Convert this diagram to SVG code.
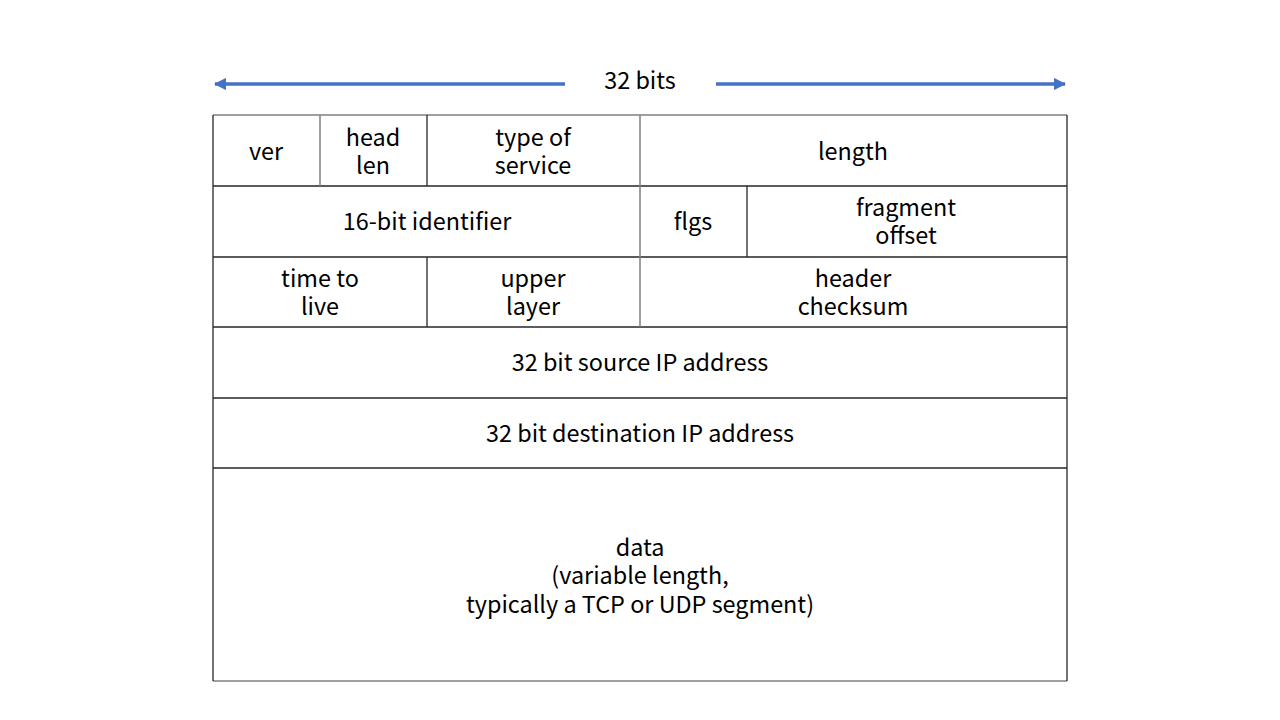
<svg xmlns="http://www.w3.org/2000/svg" width="1280" height="720" viewBox="0 0 1280 720">
<style>
text{font-family:"Noto Sans CJK KR","Noto Sans",sans-serif;font-size:23.4px;fill:#000;text-anchor:middle;dominant-baseline:central}
.g{stroke:#7f7f7f;stroke-width:1.5;fill:none}
.d{stroke:#262626;stroke-width:1.3;fill:none}
.a{stroke:#4472C4;stroke-width:3.5;fill:none}
</style>
<defs>
<marker id="ah" viewBox="0 0 10 10" refX="9" refY="5" markerWidth="3.5" markerHeight="3.5" orient="auto-start-reverse" markerUnits="strokeWidth">
<path d="M0,0 L10,5 L0,10 z" fill="#4472C4"/>
</marker>
</defs>
<rect width="1280" height="720" fill="#fff"/>
<g id="connectors">
<line class="a" x1="215" y1="84" x2="565" y2="84" marker-start="url(#ah)"/>
<line class="a" x1="716" y1="84" x2="1065" y2="84" marker-end="url(#ah)"/>
</g>
<g id="grid">
<line class="g" x1="213" y1="115" x2="1067" y2="115"/>
<line class="d" x1="213" y1="186" x2="1067" y2="186"/>
<line class="d" x1="213" y1="257" x2="1067" y2="257"/>
<line class="d" x1="213" y1="327" x2="1067" y2="327"/>
<line class="d" x1="213" y1="398" x2="1067" y2="398"/>
<line class="d" x1="213" y1="468" x2="1067" y2="468"/>
<line class="g" x1="213" y1="681" x2="1067" y2="681"/>
<line class="d" x1="213" y1="115" x2="213" y2="681"/>
<line class="d" x1="1067" y1="115" x2="1067" y2="681"/>
<line class="g" x1="320" y1="115" x2="320" y2="186"/>
<line class="d" x1="427" y1="115" x2="427" y2="186"/>
<line class="g" x1="640" y1="115" x2="640" y2="327"/>
<line class="d" x1="747" y1="186" x2="747" y2="257"/>
<line class="d" x1="427" y1="257" x2="427" y2="327"/>
</g>
<g id="title"><text x="640" y="79">32 bits</text></g>
<g id="ver"><text x="266" y="150">ver</text></g>
<g id="headlen"><text x="373" y="136">head</text><text x="373" y="164">len</text></g>
<g id="tos"><text x="533" y="136">type of</text><text x="533" y="164">service</text></g>
<g id="length"><text x="853" y="150">length</text></g>
<g id="ident"><text x="427" y="220">16-bit identifier</text></g>
<g id="flgs"><text x="693" y="220">flgs</text></g>
<g id="frag"><text x="906" y="206">fragment</text><text x="906" y="234">offset</text></g>
<g id="ttl"><text x="320" y="277">time to</text><text x="320" y="305">live</text></g>
<g id="upper"><text x="533" y="277">upper</text><text x="533" y="305">layer</text></g>
<g id="cksum"><text x="853" y="277">header</text><text x="853" y="305">checksum</text></g>
<g id="src"><text x="640" y="361">32 bit source IP address</text></g>
<g id="dst"><text x="640" y="432">32 bit destination IP address</text></g>
<g id="data"><text x="640" y="546">data</text><text x="640" y="574">(variable length,</text><text x="640" y="603">typically a TCP or UDP segment)</text></g>
</svg>
